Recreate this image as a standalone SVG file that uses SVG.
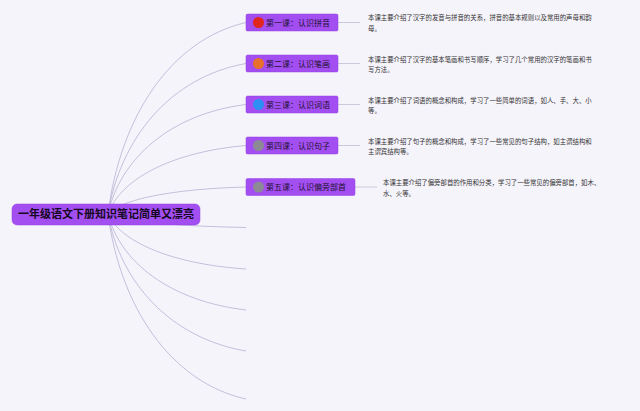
<svg xmlns="http://www.w3.org/2000/svg" width="640" height="411" viewBox="0 0 640 411">
<style>
.bg{fill:#f6f4fb}
.con path{fill:none;stroke:#b5b1d3;stroke-width:0.8}
.lnk{stroke:#c2bfd2;stroke-width:0.8}
.box{fill:#a24ef0;stroke:#9640e6;stroke-width:0.5}
.lbl{font-family:"Noto Sans CJK SC","Noto Sans",sans-serif;font-size:8px;fill:#1d1230}
.desc{font-family:"Noto Sans CJK SC","Noto Sans",sans-serif;font-size:6.4px;fill:#333333}
.root{font-family:"Noto Sans CJK SC","Noto Sans",sans-serif;font-size:11px;font-weight:bold;fill:#15091f}
</style>
<rect class="bg" x="0" y="0" width="640" height="411"/>
<g id="connectors" class="con">
<path d="M108,214 C120,118 170,40 246,22.5"/>
<path d="M108,214 C120,139 170,77 246,63.5"/>
<path d="M108,214 C120,159 170,114 246,104.5"/>
<path d="M108,214 C120,180 170,152 246,145.5"/>
<path d="M108,214 C120,200 170,189 246,187"/>
<path d="M108,214 C120,221 170,226 246,227.5"/>
<path d="M108,214 C120,241 170,264 246,269"/>
<path d="M108,214 C120,262 170,301 246,310"/>
<path d="M108,214 C120,282 170,338 246,351"/>
<path d="M108,214 C120,306 170,382 246,399"/>
<line class="lnk" x1="338" y1="22.5" x2="360" y2="22.5"/>
<line class="lnk" x1="338" y1="63.5" x2="360" y2="63.5"/>
<line class="lnk" x1="338" y1="104.5" x2="360" y2="104.5"/>
<line class="lnk" x1="338" y1="145.5" x2="360" y2="145.5"/>
<line class="lnk" x1="355" y1="187" x2="377" y2="187"/>
</g>
<g id="root">
<rect class="box" x="12" y="204" width="188" height="21" rx="5"/>
<text class="root" x="106" y="218" text-anchor="middle">一年级语文下册知识笔记简单又漂亮</text>
</g>
<g id="lesson1">
<rect class="box" x="246" y="14" width="92" height="17" rx="1.5"/>
<circle cx="258.5" cy="22.5" r="5.5" fill="#e0261d"/>
<text class="lbl" x="266" y="25.5">第一课：认识拼音</text>
<text class="desc" x="368" y="20"><tspan x="368">本课主要介绍了汉字的发音与拼音的关系，拼音的基本规则以及常用的声母和韵</tspan><tspan x="368" dy="10.8">母。</tspan></text>
</g>
<g id="lesson2">
<rect class="box" x="246" y="55" width="92" height="17" rx="1.5"/>
<circle cx="258.5" cy="63.5" r="5.5" fill="#e8702c"/>
<text class="lbl" x="266" y="66.5">第二课：认识笔画</text>
<text class="desc" x="368" y="61.5"><tspan x="368">本课主要介绍了汉字的基本笔画和书写顺序，学习了几个常用的汉字的笔画和书</tspan><tspan x="368" dy="10.8">写方法。</tspan></text>
</g>
<g id="lesson3">
<rect class="box" x="246" y="96" width="92" height="17" rx="1.5"/>
<circle cx="258.5" cy="104.5" r="5.5" fill="#2e8ff2"/>
<text class="lbl" x="266" y="107.5">第三课：认识词语</text>
<text class="desc" x="368" y="102.5"><tspan x="368">本课主要介绍了词语的概念和构成，学习了一些简单的词语，如人、手、大、小</tspan><tspan x="368" dy="10.8">等。</tspan></text>
</g>
<g id="lesson4">
<rect class="box" x="246" y="137" width="92" height="17" rx="1.5"/>
<circle cx="258.5" cy="145.5" r="5.5" fill="#8c8a94"/>
<text class="lbl" x="266" y="148.5">第四课：认识句子</text>
<text class="desc" x="368" y="143.5"><tspan x="368">本课主要介绍了句子的概念和构成，学习了一些常见的句子结构，如主谓结构和</tspan><tspan x="368" dy="10.8">主谓宾结构等。</tspan></text>
</g>
<g id="lesson5">
<rect class="box" x="246" y="178.5" width="109" height="17" rx="1.5"/>
<circle cx="258.5" cy="187" r="5.5" fill="#8c8a94"/>
<text class="lbl" x="266" y="190">第五课：认识偏旁部首</text>
<text class="desc" x="383" y="185"><tspan x="383">本课主要介绍了偏旁部首的作用和分类，学习了一些常见的偏旁部首，如木、</tspan><tspan x="383" dy="10.8">水、火等。</tspan></text>
</g>
</svg>
